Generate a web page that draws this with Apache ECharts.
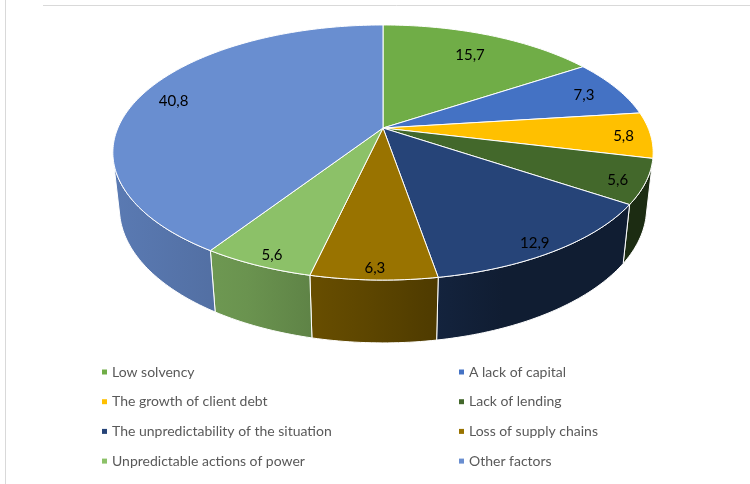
<!DOCTYPE html>
<html lang="en">
<head>
<meta charset="UTF-8">
<title>Factors</title>
<script src="https://cdn.jsdelivr.net/npm/echarts@6/dist/echarts.min.js"></script>
<style>
    html, body { margin: 0; padding: 0; background: #fff; }
    #chart { width: 750px; height: 484px; }
</style>
</head>
<body>
<div id="chart"></div>
<script>
    const categories = [
        'Low solvency',
        'A lack of capital',
        'The growth of client debt',
        'Lack of lending',
        'The unpredictability of the situation',
        'Loss of supply chains',
        'Unpredictable actions of power',
        'Other factors'
    ];
    const values = [15.7, 7.3, 5.8, 5.6, 12.9, 6.3, 5.6, 40.8];
    const colors = ['#70AD47', '#4472C4', '#FFC000', '#43682B', '#264478', '#997300', '#8CC168', '#698ED0'];

    // legend columns (Excel fills rows left to right)
    const legendLeft = [categories[0], categories[2], categories[4], categories[6]];
    const legendRight = [categories[1], categories[3], categories[5], categories[7]];

    // perspective view of the pie disc
    const view = { cx: 383, cy: 128, f: 1222.7, d: 4.612, pitch: 27.6 * Math.PI / 180, depth: 0.238 };
    const sinP = Math.sin(view.pitch), cosP = Math.cos(view.pitch);

    function project(r, theta, y) {
        const X = r * Math.sin(theta), Z = r * Math.cos(theta);
        const zc = view.d - y * sinP + Z * cosP;
        return [view.cx + view.f * X / zc, view.cy - view.f * (y * cosP + Z * sinP) / zc];
    }

    // slice angles, clockwise from 12 o'clock
    const total = values.reduce((a, b) => a + b, 0);
    const starts = [], ends = [];
    let acc = 0;
    values.forEach(v => {
        starts.push(acc / total * Math.PI * 2);
        acc += v;
        ends.push(acc / total * Math.PI * 2);
    });

    // the side wall is visible only between the two silhouette lines
    const tangent = Math.acos(1 / (view.d * cosP));
    const visFrom = Math.PI - tangent, visTo = Math.PI + tangent;

    function shade(hex, k) {
        const n = parseInt(hex.slice(1), 16);
        const r = Math.round(((n >> 16) & 255) * k);
        const g = Math.round(((n >> 8) & 255) * k);
        const b = Math.round((n & 255) * k);
        return 'rgb(' + r + ',' + g + ',' + b + ')';
    }

    function arc(a0, a1, y) {
        const pts = [];
        const steps = Math.max(2, Math.ceil((a1 - a0) / (Math.PI / 180)));
        for (let k = 0; k <= steps; k++) {
            pts.push(project(1, a0 + (a1 - a0) * k / steps, y));
        }
        return pts;
    }

    function renderSlice(params, api) {
        const i = params.seriesIndex;
        const a0 = starts[i], a1 = ends[i];
        const children = [];

        const top = [project(0, 0, 0)].concat(arc(a0, a1, 0));
        children.push({
            type: 'polygon',
            z2: 20,
            shape: { points: top },
            style: { fill: colors[i], stroke: '#fff', lineWidth: 1 }
        });

        const w0 = Math.max(a0, visFrom), w1 = Math.min(a1, visTo);
        if (w1 > w0) {
            const pts = arc(w0, w1, 0).concat(arc(w0, w1, -view.depth).reverse());
            children.push({
                type: 'polygon',
                z2: 10,
                shape: { points: pts },
                style: {
                    fill: {
                        type: 'linear', x: 112, y: 0, x2: 655, y2: 0, global: true,
                        colorStops: [
                            { offset: 0, color: shade(colors[i], 0.86) },
                            { offset: 0.25, color: shade(colors[i], 0.76) },
                            { offset: 0.48, color: shade(colors[i], 0.6) },
                            { offset: 0.72, color: shade(colors[i], 0.42) },
                            { offset: 1, color: shade(colors[i], 0.42) }
                        ]
                    },
                    stroke: '#fff',
                    lineWidth: 1
                }
            });
        }

        // labels sit nearer the rim at the front, further in at the back
        const mid = (a0 + a1) / 2;
        const z = Math.cos(mid);
        const p = project(0.9 - 0.13 * Math.max(z, 0), mid, 0);
        children.push({
            type: 'text',
            z2: 30,
            x: p[0],
            y: p[1] + 2 + 5 * Math.max(-z, 0),
            style: {
                text: String(values[i]).replace('.', ','),
                align: 'center',
                verticalAlign: 'middle',
                fill: '#000',
                font: '15px Lato'
            }
        });
        return { type: 'group', children: children };
    }

    const legendBase = {
        orient: 'vertical',
        top: 364,
        padding: 0,
        icon: 'rect',
        itemWidth: 5,
        itemHeight: 5,
        itemGap: 13.7,
        selectedMode: false,
        textStyle: { fontFamily: 'Lato', fontSize: 14, lineHeight: 16, color: '#595959' }
    };

    const option = {
        backgroundColor: '#fff',
        animation: false,
        legend: [
            Object.assign({}, legendBase, { left: 102, data: legendLeft }),
            Object.assign({}, legendBase, { left: 459, data: legendRight })
        ],
        graphic: [
            { type: 'line', shape: { x1: 5.5, y1: 0, x2: 5.5, y2: 484 }, style: { stroke: '#d9d9d9', lineWidth: 1 } },
            { type: 'line', shape: { x1: 43, y1: 5.5, x2: 750, y2: 5.5 }, style: { stroke: '#d9d9d9', lineWidth: 1 } }
        ],
        series: categories.map((name, i) => ({
            type: 'custom',
            name: name,
            coordinateSystem: 'none',
            itemStyle: { color: colors[i] },
            data: [values[i]],
            renderItem: renderSlice
        }))
    };

    const chart = echarts.init(document.getElementById('chart'));
    chart.setOption(option);
</script>
</body>
</html>
